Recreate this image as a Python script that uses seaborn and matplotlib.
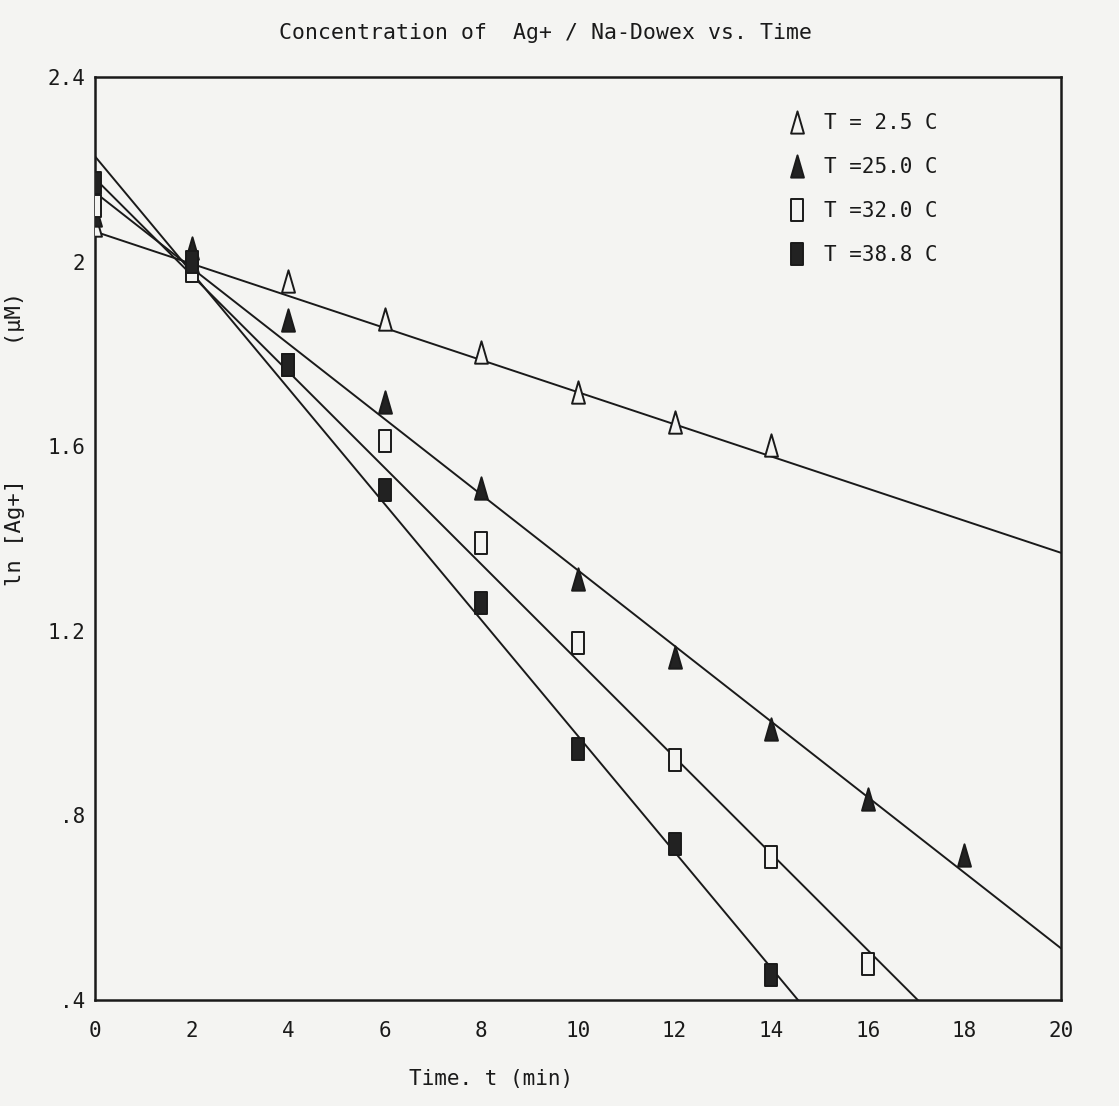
import numpy as np
import pandas as pd
import matplotlib
matplotlib.use("Agg")
import matplotlib.pyplot as plt
from matplotlib.path import Path
from matplotlib.markers import MarkerStyle
from matplotlib.lines import Line2D
import seaborn as sns

# ---------------- data ----------------
labels = ["T = 2.5 C", "T =25.0 C", "T =32.0 C", "T =38.8 C"]

t_25 = [0, 2, 4, 6, 8, 10, 12, 14]
y_25 = [2.08, 2.00, 1.957, 1.876, 1.805, 1.718, 1.653, 1.603]

t_250 = [0, 2, 4, 6, 8, 10, 12, 14, 16, 18]
y_250 = [2.10, 2.03, 1.874, 1.696, 1.51, 1.312, 1.143, 0.988, 0.835, 0.714]

t_320 = [0, 2, 4, 6, 8, 10, 12, 14, 16]
y_320 = [2.12, 1.98, 1.777, 1.612, 1.39, 1.174, 0.92, 0.709, 0.479]

t_388 = [0, 2, 4, 6, 8, 10, 12, 14]
y_388 = [2.17, 2.00, 1.777, 1.505, 1.26, 0.944, 0.739, 0.455]

# fitted straight lines (intercept, slope)
fit_intercept = [2.065, 2.150, 2.180, 2.228]
fit_slope = [-0.0348, -0.0819, -0.1045, -0.1256]

x_ticks = [0, 2, 4, 6, 8, 10, 12, 14, 16, 18, 20]
x_ticklabels = ["0", "2", "4", "6", "8", "10", "12", "14", "16", "18", "20"]
y_ticks = [0.4, 0.8, 1.2, 1.6, 2.0, 2.4]
y_ticklabels = [".4", ".8", "1.2", "1.6", "2", "2.4"]

# ---------------- style ----------------
sns.set_style("white")
plt.rcParams["font.family"] = ["DejaVu Sans Mono", "DejaVu Sans"]

tri = MarkerStyle(Path([(-0.58, -1), (0.58, -1), (0, 1), (-0.58, -1)],
                       [Path.MOVETO, Path.LINETO, Path.LINETO, Path.CLOSEPOLY]))
rect = MarkerStyle(Path([(-0.5, -1), (0.5, -1), (0.5, 1), (-0.5, 1), (-0.5, -1)],
                        [Path.MOVETO, Path.LINETO, Path.LINETO, Path.LINETO, Path.CLOSEPOLY]))

ink = "#1a1a1a"
bg = "#f4f4f2"
series = [
    (t_25, y_25, tri, bg),
    (t_250, y_250, tri, "#222222"),
    (t_320, y_320, rect, bg),
    (t_388, y_388, rect, "#222222"),
]

fig = plt.figure(figsize=(11.19, 11.06), dpi=100, facecolor=bg)
ax = fig.add_axes([95 / 1119, 1 - 1000 / 1106, 966 / 1119, 923 / 1106])
ax.set_facecolor(bg)

# fit lines
xl = np.array([0.0, 20.0])
for a, b in zip(fit_intercept, fit_slope):
    sns.lineplot(x=xl, y=a + b * xl, ax=ax, color=ink, lw=1.4, zorder=2)

# markers
handles = []
for (tx, ty, mk, fc), lab in zip(series, labels):
    df = pd.DataFrame({"t": tx, "y": ty})
    sns.scatterplot(data=df, x="t", y="y", ax=ax, marker=mk, s=260,
                    color=fc, edgecolor=ink, linewidth=1.4, zorder=3)
    handles.append(Line2D([], [], ls="none", marker=mk, markersize=16,
                          markerfacecolor=fc, markeredgecolor=ink,
                          markeredgewidth=1.4, label=lab))

ax.set_xlim(0, 20)
ax.set_ylim(0.4, 2.4)
ax.set_xticks(x_ticks)
ax.set_xticklabels(x_ticklabels)
ax.set_yticks(y_ticks)
ax.set_yticklabels(y_ticklabels)
ax.tick_params(axis="both", direction="out", width=1.2,
               labelsize=15, color=ink, labelcolor=ink)
ax.tick_params(axis="x", length=9, pad=6)
ax.tick_params(axis="y", length=5, pad=2)
for s in ax.spines.values():
    s.set_color(ink)
    s.set_linewidth(1.8)

ax.set_xlabel("Time. t (min)", fontsize=15, color=ink)
ax.xaxis.set_label_coords(0.41, -0.075)
ax.set_ylabel("ln [Ag+]          (\u00b5M)", fontsize=16, color=ink)
ax.yaxis.set_label_coords(-0.072, 0.608)

ax.text(0.466, 1.048, "Concentration of  Ag+ / Na-Dowex vs. Time",
        transform=ax.transAxes, ha="center", va="center",
        fontsize=15.5, color=ink)

leg = ax.legend(handles=handles, loc="upper left",
                bbox_to_anchor=((778 - 95) / 966, (1000 - 105) / 923),
                frameon=False, fontsize=15, labelspacing=1.15,
                handletextpad=0.8, handlelength=1.0, borderaxespad=0)
for txt in leg.get_texts():
    txt.set_color(ink)

fig.savefig("out.png", dpi=100, facecolor=bg)
